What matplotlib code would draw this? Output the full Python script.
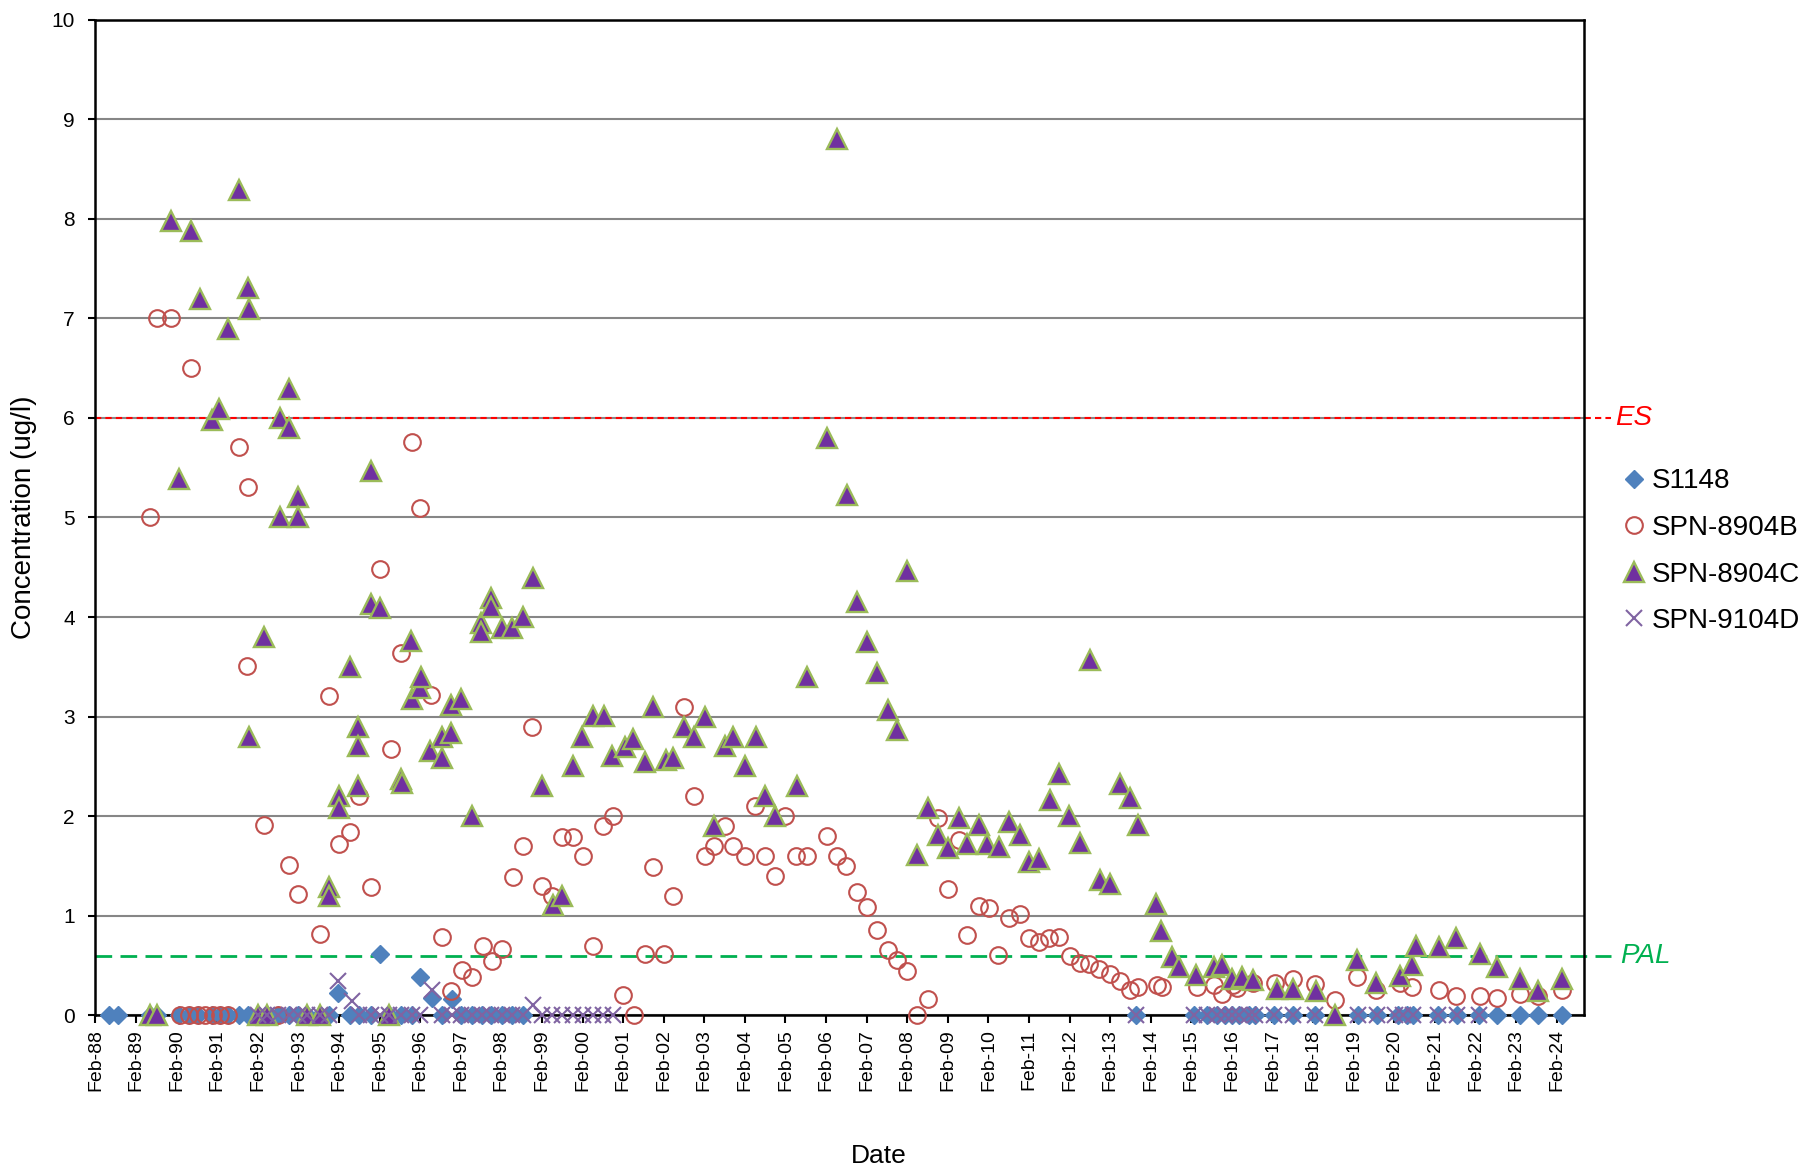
import matplotlib
matplotlib.use("Agg")
import matplotlib.pyplot as plt

plt.rcParams['font.family'] = ['Liberation Sans', 'DejaVu Sans']

# Sample dates as decimal years, concentrations in ug/l
s1148_t = [1988.42, 1988.65, 1989.42, 1989.61, 1990.15, 1990.38, 1990.62, 1990.95, 1991.15, 1991.35,
           1991.62, 1991.85, 1992.08, 1992.31, 1992.58, 1992.86, 1993.08, 1993.30, 1993.61, 1993.84,
           1994.07, 1994.35, 1994.58, 1994.86, 1995.09, 1995.32, 1995.60, 1995.87, 1996.08, 1996.37,
           1996.61, 1996.86, 1997.10, 1997.36, 1997.60, 1997.84, 1998.10, 1998.34, 1998.62, 2013.72,
           2015.14, 2015.46, 2015.71, 2015.91, 2016.08, 2016.25, 2016.50, 2016.65, 2017.13, 2017.59,
           2018.12, 2019.19, 2019.65, 2020.18, 2020.39, 2020.55, 2021.17, 2021.62, 2022.16, 2022.61,
           2023.19, 2023.63, 2024.21]
s1148_v = [0, 0, 0, 0, 0, 0, 0, 0, 0, 0,
           0, 0, 0, 0, 0, 0, 0, 0, 0, 0,
           0.22, 0, 0, 0, 0.62, 0, 0, 0, 0.39, 0.17,
           0, 0.16, 0, 0, 0, 0, 0, 0, 0, 0,
           0, 0, 0, 0, 0, 0, 0, 0, 0, 0,
           0, 0, 0, 0, 0, 0, 0, 0, 0, 0,
           0, 0, 0]

spn8904b_t = [1990.17, 1990.38, 1990.62, 1990.78, 1990.99, 1991.15, 1991.35, 1992.58,
              1989.42, 1989.61, 1989.95, 1990.43, 1991.62, 1991.81, 1991.85, 1992.23, 1992.86, 1993.08,
              1993.61, 1993.84, 1994.09, 1994.35, 1994.58, 1994.86, 1995.10, 1995.36, 1995.60, 1995.87,
              1996.09, 1996.36, 1996.61, 1996.84, 1997.11, 1997.35, 1997.62, 1997.86, 1998.11, 1998.36,
              1998.62, 1998.85, 1999.09, 1999.32, 1999.57, 1999.84, 2000.09, 2000.35, 2000.60, 2000.83,
              2001.09, 2001.34, 2001.62, 2001.81, 2002.08, 2002.32, 2002.59, 2002.83, 2003.10, 2003.32,
              2003.60, 2003.80, 2004.09, 2004.33, 2004.58, 2004.83, 2005.07, 2005.35, 2005.61, 2006.10,
              2006.35, 2006.58, 2006.84, 2007.09, 2007.33, 2007.62, 2007.82, 2008.07, 2008.33, 2008.59,
              2008.83, 2009.08, 2009.35, 2009.55, 2009.86, 2010.11, 2010.33, 2010.60, 2010.85, 2011.09,
              2011.34, 2011.58, 2011.83, 2012.10, 2012.35, 2012.55, 2012.80, 2013.08, 2013.33, 2013.58,
              2013.78, 2014.23, 2014.36, 2015.22, 2015.63, 2015.83, 2016.12, 2016.22, 2016.61, 2017.15,
              2017.60, 2018.13, 2018.63, 2019.16, 2019.64, 2020.23, 2020.53, 2021.18, 2021.61, 2022.19,
              2022.61, 2023.19, 2023.62, 2024.21]
spn8904b_v = [0, 0, 0, 0, 0, 0, 0, 0,
              5.00, 7.00, 7.00, 6.50, 5.71, 3.51, 5.31, 1.91, 1.51, 1.22,
              0.82, 3.21, 1.72, 1.84, 2.20, 1.29, 4.48, 2.67, 3.64, 5.76,
              5.10, 3.22, 0.79, 0.24, 0.46, 0.39, 0.70, 0.55, 0.67, 1.39,
              1.70, 2.90, 1.30, 1.20, 1.79, 1.79, 1.60, 0.70, 1.90, 2.00,
              0.20, 0, 0.62, 1.49, 0.62, 1.20, 3.10, 2.20, 1.60, 1.70,
              1.90, 1.70, 1.60, 2.10, 1.60, 1.40, 2.00, 1.60, 1.60, 1.80,
              1.60, 1.50, 1.24, 1.09, 0.86, 0.66, 0.56, 0.45, 0, 0.16,
              1.98, 1.27, 1.76, 0.81, 1.10, 1.08, 0.61, 0.98, 1.02, 0.78,
              0.74, 0.78, 0.79, 0.60, 0.53, 0.52, 0.47, 0.42, 0.34, 0.25,
              0.28, 0.30, 0.28, 0.28, 0.30, 0.21, 0.30, 0.27, 0.32, 0.32,
              0.37, 0.31, 0.15, 0.39, 0.25, 0.32, 0.28, 0.25, 0.19, 0.19,
              0.17, 0.21, 0.19, 0.25]

spn8904c_t = [1989.42, 1989.61, 1989.95, 1990.15, 1990.44, 1990.66, 1990.95, 1991.13, 1991.35, 1991.62,
              1991.85, 1991.86, 1991.87, 1992.08, 1992.23, 1992.31, 1992.63, 1992.63, 1992.86, 1992.86,
              1993.08, 1993.08, 1993.30, 1993.61, 1993.84, 1993.84, 1994.09, 1994.09, 1994.35, 1994.56,
              1994.56, 1994.56, 1994.86, 1994.86, 1995.09, 1995.32, 1995.60, 1995.63, 1995.86, 1995.87,
              1996.08, 1996.11, 1996.32, 1996.62, 1996.62, 1996.85, 1996.85, 1997.10, 1997.36, 1997.59,
              1997.59, 1997.84, 1997.84, 1998.10, 1998.34, 1998.62, 1998.86, 1999.09, 1999.35, 1999.57,
              1999.84, 2000.08, 2000.34, 2000.62, 2000.82, 2001.12, 2001.33, 2001.62, 2001.81, 2002.13,
              2002.32, 2002.58, 2002.83, 2003.10, 2003.32, 2003.59, 2003.80, 2004.09, 2004.35, 2004.58,
              2004.83, 2005.36, 2005.61, 2006.10, 2006.35, 2006.59, 2006.84, 2007.09, 2007.33, 2007.62,
              2007.82, 2008.07, 2008.33, 2008.60, 2008.83, 2009.08, 2009.35, 2009.56, 2009.86, 2010.06,
              2010.35, 2010.60, 2010.85, 2011.09, 2011.34, 2011.60, 2011.83, 2012.08, 2012.35, 2012.59,
              2012.83, 2013.09, 2013.33, 2013.58, 2013.78, 2014.21, 2014.34, 2014.60, 2014.79, 2015.20,
              2015.63, 2015.83, 2016.08, 2016.32, 2016.61, 2017.19, 2017.60, 2018.16, 2018.63, 2019.16,
              2019.64, 2020.23, 2020.53, 2020.62, 2021.18, 2021.61, 2022.19, 2022.61, 2023.19, 2023.62,
              2024.21]
spn8904c_v = [0, 0, 7.98, 5.39, 7.88, 7.19, 5.98, 6.09, 6.89, 8.29,
              7.30, 7.09, 2.80, 0, 3.80, 0, 6.00, 5.00, 6.29, 5.90,
              5.21, 5.00, 0, 0, 1.29, 1.20, 2.20, 2.08, 3.50, 2.90,
              2.71, 2.30, 5.47, 4.13, 4.09, 0, 2.37, 2.33, 3.76, 3.18,
              3.29, 3.40, 2.65, 2.80, 2.58, 2.84, 3.12, 3.18, 2.00, 3.94,
              3.85, 4.19, 4.10, 3.89, 3.89, 4.00, 4.39, 2.30, 1.11, 1.20,
              2.50, 2.80, 3.01, 3.01, 2.60, 2.69, 2.78, 2.54, 3.10, 2.56,
              2.58, 2.90, 2.80, 3.00, 1.90, 2.70, 2.80, 2.50, 2.80, 2.20,
              2.00, 2.30, 3.40, 5.80, 8.80, 5.23, 4.15, 3.75, 3.44, 3.07,
              2.87, 4.46, 1.61, 2.08, 1.81, 1.68, 1.98, 1.72, 1.91, 1.72,
              1.69, 1.94, 1.81, 1.54, 1.57, 2.16, 2.42, 2.00, 1.73, 3.57,
              1.36, 1.32, 2.32, 2.18, 1.91, 1.12, 0.85, 0.59, 0.49, 0.41,
              0.49, 0.51, 0.36, 0.39, 0.35, 0.26, 0.26, 0.24, 0, 0.56,
              0.32, 0.40, 0.51, 0.70, 0.69, 0.78, 0.62, 0.49, 0.36, 0.24,
              0.36]

spn9104d_t = [1992.08, 1992.31, 1992.58, 1992.86, 1993.08, 1993.30, 1993.61, 1993.84, 1994.07, 1994.40,
              1994.58, 1994.86, 1995.09, 1995.32, 1995.60, 1995.87, 1996.08, 1996.37, 1996.62, 1996.86,
              1997.10, 1997.36, 1997.60, 1997.84, 1998.10, 1998.34, 1998.62, 1998.86, 1999.09, 1999.32,
              1999.57, 1999.84, 2000.09, 2000.35, 2000.60, 2000.83, 2013.72, 2015.14, 2015.46, 2015.71,
              2015.91, 2016.08, 2016.25, 2016.50, 2016.65, 2017.13, 2017.59, 2018.12, 2019.19, 2019.65,
              2020.10, 2020.30, 2020.55, 2021.17, 2021.62, 2022.16]
spn9104d_v = [0, 0, 0, 0, 0, 0, 0, 0, 0.34, 0.14,
              0, 0, 0, 0, 0, 0, 0, 0.25, 0, 0,
              0, 0, 0, 0, 0, 0, 0, 0.10, 0, 0,
              0, 0, 0, 0, 0, 0, 0, 0, 0, 0,
              0, 0, 0, 0, 0, 0, 0, 0, 0, 0,
              0, 0, 0, 0, 0, 0]

es_value = 6.0
pal_value = 0.6
tick_years = list(range(1988, 2025))
tick_labels = ["Feb-%02d" % (y % 100) for y in tick_years]

fig = plt.figure(figsize=(18.05, 11.68), dpi=100)
ax = fig.add_axes([0.0529, 0.1307, 0.8247, 0.8525])

ax.plot(s1148_t, s1148_v, ls='none', marker='D', ms=9.5, color='#4F81BD',
        mec='#4F81BD', clip_on=False, zorder=3, label='S1148')
ax.plot(spn8904b_t, spn8904b_v, ls='none', marker='o', ms=12, mfc='none',
        mec='#C0504D', mew=1.5, clip_on=False, zorder=4, label='SPN-8904B')
ax.plot(spn8904c_t, spn8904c_v, ls='none', marker='^', ms=14, mfc='#7030A0',
        mec='#9BBB59', mew=1.7, clip_on=False, zorder=5, label='SPN-8904C')
ax.plot(spn9104d_t, spn9104d_v, ls='none', marker='x', ms=11, color='#8064A2',
        mew=1.5, clip_on=False, zorder=6, label='SPN-9104D')

# standard lines
ytr = ax.get_yaxis_transform()
ax.plot([0, 1.018], [es_value, es_value], transform=ytr, color='#FF0000',
        ls=(0, (3, 2)), lw=1.5, clip_on=False, zorder=2)
ax.text(1.021, es_value, 'ES', transform=ytr, color='#FF0000', style='italic',
        fontsize=20, va='center', ha='left')
ax.plot([0, 1.018], [pal_value, pal_value], transform=ytr, color='#00B050',
        ls=(0, (6, 3)), lw=2, clip_on=False, zorder=2)
ax.text(1.024, pal_value, 'PAL', transform=ytr, color='#00B050', style='italic',
        fontsize=20, va='center', ha='left')

ax.set_xlim(1988 + 1/12, 2024.76)
ax.set_ylim(0, 10)
ax.set_yticks(range(0, 11))
ax.set_xticks([y + 1/12 for y in tick_years])
ax.set_xticklabels(tick_labels, rotation=90)
ax.grid(axis='y', color='#868686', lw=1.5)
ax.set_axisbelow(True)
ax.tick_params(axis='x', labelsize=14, length=6, width=1.5, pad=4)
ax.tick_params(axis='y', labelsize=15, length=5, width=1.5, pad=10)
for s in ax.spines.values():
    s.set_linewidth(1.8)
    s.set_color('black')

ax.set_ylabel('Concentration (ug/l)', fontsize=20)
ax.yaxis.set_label_coords(-0.039, 0.5)
ax.set_xlabel('Date', fontsize=19)
ax.xaxis.set_label_coords(0.526, -0.129)

fig.legend(loc='center left', bbox_to_anchor=(0.899, 0.528), frameon=False,
           fontsize=20, numpoints=1, handlelength=0.8, handletextpad=0.25,
           labelspacing=0.74, borderpad=0, borderaxespad=0)

fig.savefig('out.png', dpi=100)
